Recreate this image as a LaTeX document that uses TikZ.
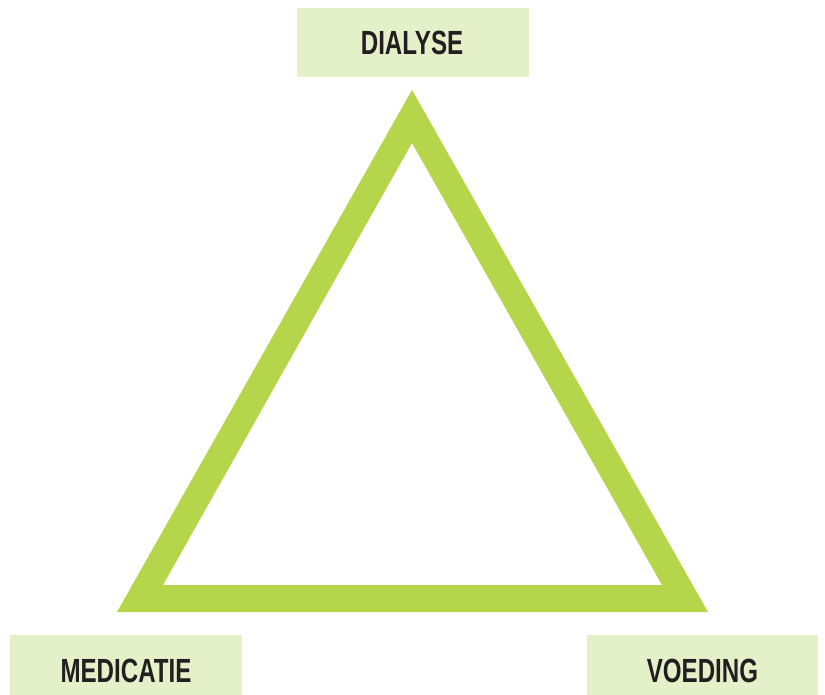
\documentclass[tikz,border=0pt]{standalone}
\usepackage{fontspec}
\setmainfont[FakeStretch=0.72]{Liberation Sans}
\definecolor{boxgreen}{HTML}{E4F0C8}
\definecolor{trigreen}{HTML}{B5D54B}
\definecolor{txt}{HTML}{231F20}
\begin{document}
\begin{tikzpicture}[x=1pt,y=-1pt,
  lbltext/.style={text=txt, font=\fontsize{33.5}{36}\selectfont\bfseries, anchor=base, inner sep=0pt}]
\useasboundingbox (0,0) rectangle (825,695);
% triangle frame
\fill[trigreen, even odd rule] (412,90) -- (708,612) -- (117,612) -- cycle
  (412,143) -- (662,585) -- (163,585) -- cycle;
% label boxes
\fill[boxgreen] (297,8) rectangle (529,77);
\node[lbltext] (dia) at (412,54.5) {DIALYSE};
\fill[boxgreen] (10,635) rectangle (242,695);
\node[lbltext] (med) at (126,682) {MEDICATIE};
\fill[boxgreen] (587,635) rectangle (818,695);
\node[lbltext] (voe) at (702.5,682) {VOEDING};
\end{tikzpicture}
\end{document}
